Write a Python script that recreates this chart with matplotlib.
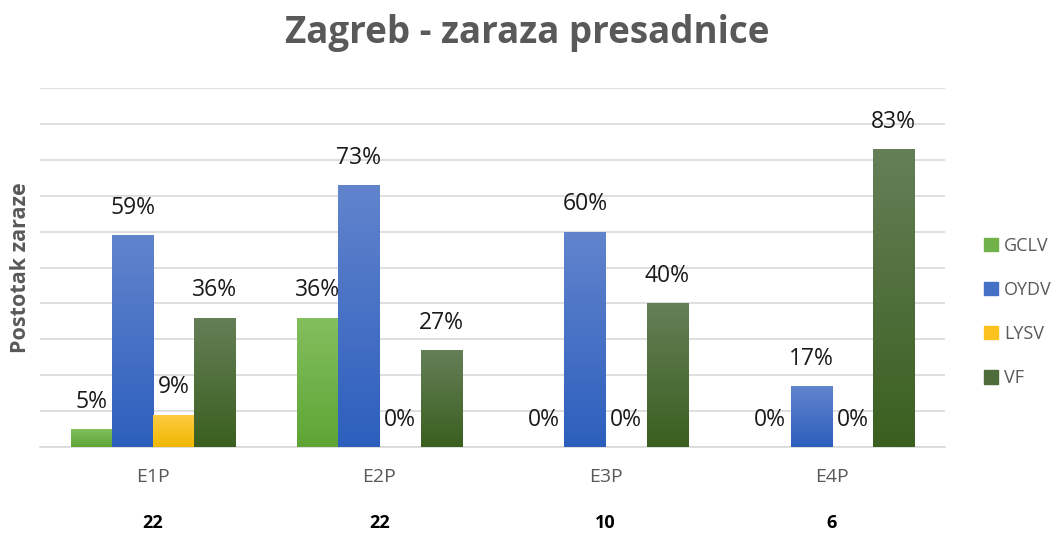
import matplotlib
matplotlib.use("Agg")
import matplotlib.pyplot as plt
import numpy as np
from matplotlib.colors import LinearSegmentedColormap

categories = ["E1P", "E2P", "E3P", "E4P"]
counts = ["22", "22", "10", "6"]
series = ["GCLV", "OYDV", "LYSV", "VF"]
gclv = [5, 36, 0, 0]
oydv = [59, 73, 60, 17]
lysv = [9, 0, 0, 0]
vf = [36, 27, 40, 83]
values = [gclv, oydv, lysv, vf]

top_colors = ["#83bf5e", "#6284cd", "#ffcb45", "#657f57"]
bot_colors = ["#5ea535", "#2c5fbd", "#f0b800", "#3a5f1f"]
legend_colors = ["#70b14a", "#4471c6", "#fcc21f", "#4e6c3a"]

plt.rcParams['font.family'] = ['Open Sans', 'DejaVu Sans']

fig = plt.figure(figsize=(10.58, 5.35), dpi=100)
ax = fig.add_axes([40/1058, 88/535, 905/1058, 359/535])

x = np.arange(len(categories))
width = 0.182
n = len(series)
grad = np.linspace(0, 1, 256).reshape(-1, 1)
for i, (name, vals) in enumerate(zip(series, values)):
    pos = x + (i - (n - 1) / 2) * width
    bars = ax.bar(pos, vals, width, color=legend_colors[i], label=name, zorder=2, linewidth=0)
    cmap = LinearSegmentedColormap.from_list(name, [bot_colors[i], top_colors[i]])
    for b, v in zip(bars, vals):
        x0, y0 = b.get_x(), b.get_y()
        w, h = b.get_width(), b.get_height()
        if v > 0:
            im = ax.imshow(grad, extent=[x0, x0 + w, y0, y0 + h], origin='lower',
                           cmap=cmap, aspect='auto', zorder=3)
            im.set_clip_path(b)
        ax.annotate(f"{v}%", (x0 + w / 2, v), xytext=(0, 11), textcoords='offset points',
                    ha='center', va='bottom', fontsize=16.5, color='#1a1a1a', zorder=5)

ax.set_xlim(-0.5, len(categories) - 0.5)
ax.set_ylim(0, 100)
ax.set_yticks(np.arange(0, 101, 10))
ax.set_yticklabels([])
ax.tick_params(axis='y', length=0)
ax.grid(axis='y', color='#d9d9d9', linewidth=1.2, zorder=0)
ax.set_axisbelow(True)
for s in ['top', 'right', 'left']:
    ax.spines[s].set_visible(False)
ax.spines['bottom'].set_color('#d9d9d9')
ax.spines['bottom'].set_linewidth(1.2)
ax.set_xticks(x)
ax.set_xticklabels(categories, fontsize=14, color='#595959')
ax.tick_params(axis='x', length=0, pad=15)

for xi, c in zip(x, counts):
    ax.annotate(c, (xi, 0), xytext=(0, -55), textcoords='offset points',
                ha='center', va='center', fontsize=13, fontweight='bold', color='#000000')

ax.set_ylabel("Postotak zaraze", fontsize=15.5, fontweight='bold', color='#595959')
ax.yaxis.set_label_coords(-9/905, 0.5)
fig.text(527/1058, 1 - 33/535, "Zagreb - zaraza presadnice", ha='center', va='center',
         fontsize=26.5, fontweight='bold', color='#595959')

handles = [plt.Rectangle((0, 0), 1, 1, color=c) for c in legend_colors]
leg = fig.legend(handles, series, loc='center left', bbox_to_anchor=(968/1058, 1 - 312/535),
                 frameon=False, fontsize=13, labelcolor='#595959', handlelength=0.75,
                 handleheight=0.75, handletextpad=0.35, labelspacing=1.45)

fig.savefig("out.png", dpi=100)
